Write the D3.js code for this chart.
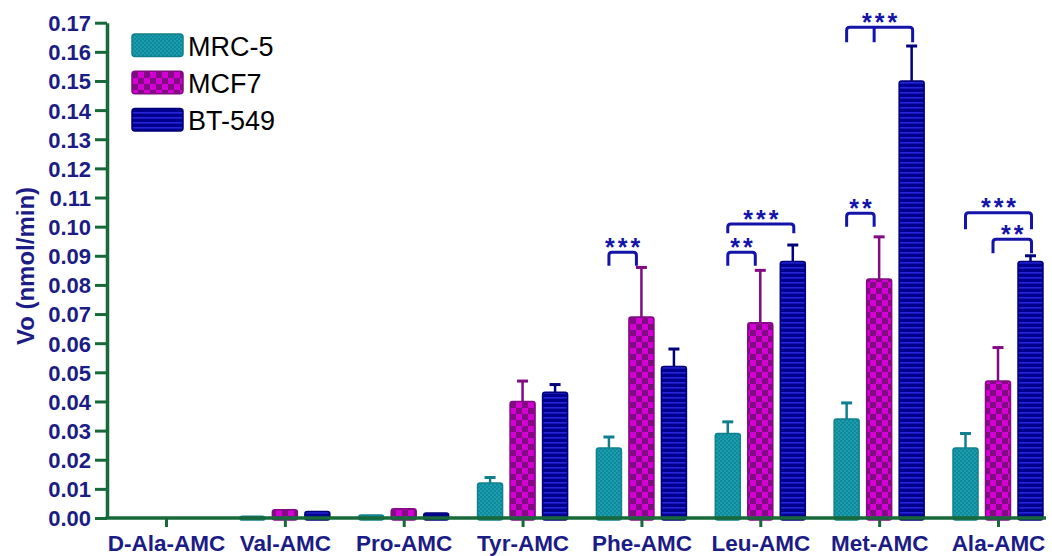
<!DOCTYPE html>
<html>
<head>
<meta charset="utf-8">
<script src="https://cdn.jsdelivr.net/npm/d3@7/dist/d3.min.js"></script>
<style>
  html, body { margin: 0; padding: 0; background: #fff; }
  svg { display: block; font-family: "Liberation Sans", Arial, sans-serif; }
</style>
</head>
<body>
<svg id="chart" width="1052" height="556"></svg>
<script>
// Substrates and cell lines
const categories = ["D-Ala-AMC", "Val-AMC", "Pro-AMC", "Tyr-AMC", "Phe-AMC", "Leu-AMC", "Met-AMC", "Ala-AMC"];
const seriesNames = ["MRC-5", "MCF7", "BT-549"];

// Initial velocity Vo (nmol/min), mean and error per substrate
const mrc5Values = [0, 0.0006, 0.001, 0.012, 0.024, 0.029, 0.034, 0.024];
const mrc5Errors = [0, 0, 0, 0.0019, 0.0038, 0.004, 0.0055, 0.005];
const mcf7Values = [0, 0.0028, 0.0032, 0.040, 0.069, 0.067, 0.082, 0.047];
const mcf7Errors = [0, 0, 0, 0.007, 0.017, 0.018, 0.0145, 0.0115];
const bt549Values = [0, 0.0022, 0.0017, 0.0432, 0.052, 0.088, 0.150, 0.088];
const bt549Errors = [0, 0, 0, 0.0026, 0.006, 0.0057, 0.012, 0.002];

const yTickValues = [0, 0.01, 0.02, 0.03, 0.04, 0.05, 0.06, 0.07, 0.08, 0.09, 0.10, 0.11, 0.12, 0.13, 0.14, 0.15, 0.16, 0.17];

// Significance brackets: legs on [category, series], bracket levels in data units
const sigCategories = ["Phe-AMC", "Leu-AMC", "Leu-AMC", "Met-AMC", "Met-AMC", "Ala-AMC", "Ala-AMC"];
const sigLegs = [["MRC-5", "MCF7"], ["MRC-5", "MCF7"], ["MRC-5", "BT-549"], ["MRC-5", "MCF7"], ["MRC-5", "MCF7", "BT-549"], ["MRC-5", "BT-549"], ["MCF7", "BT-549"]];
const sigTop = [0.0912, 0.0912, 0.1009, 0.1046, 0.1684, 0.1048, 0.0957];
const sigBottom = [0.0866, 0.0866, 0.0977, 0.1000, 0.1633, 0.0991, 0.0909];
const sigLabels = ["***", "**", "***", "**", "***", "***", "**"];

const seriesData = [
  { name: "MRC-5", values: mrc5Values, errors: mrc5Errors },
  { name: "MCF7", values: mcf7Values, errors: mcf7Errors },
  { name: "BT-549", values: bt549Values, errors: bt549Errors }
];

const svg = d3.select("#chart");
const axisColor = "#17693a";
const textNavy = "#1c1c86";
const bracketNavy = "#1414a8";

const x = d3.scalePoint().domain(categories).range([166, 998]);
const xSub = d3.scalePoint().domain(seriesNames).range([-32.5, 32.5]);
const y = d3.scaleLinear().domain([0, 0.17]).range([518, 22.7]);
const barWidth = 25;

// Fill patterns for each cell line
const defs = svg.append("defs");
const pTeal = defs.append("pattern").attr("id", "pat-mrc5").attr("patternUnits", "userSpaceOnUse")
  .attr("width", 4).attr("height", 4);
pTeal.append("rect").attr("width", 4).attr("height", 4).attr("fill", "#1a9dad");
pTeal.append("rect").attr("width", 2).attr("height", 2).attr("fill", "#12899a");
pTeal.append("rect").attr("x", 2).attr("y", 2).attr("width", 2).attr("height", 2).attr("fill", "#12899a");

const pMag = defs.append("pattern").attr("id", "pat-mcf7").attr("patternUnits", "userSpaceOnUse")
  .attr("width", 12).attr("height", 12);
pMag.append("rect").attr("width", 12).attr("height", 12).attr("fill", "#d200d2");
pMag.append("rect").attr("width", 6).attr("height", 6).attr("fill", "#820a82");
pMag.append("rect").attr("x", 6).attr("y", 6).attr("width", 6).attr("height", 6).attr("fill", "#820a82");

const pNavy = defs.append("pattern").attr("id", "pat-bt549").attr("patternUnits", "userSpaceOnUse")
  .attr("width", 8).attr("height", 5);
pNavy.append("rect").attr("width", 8).attr("height", 5).attr("fill", "#00008e");
pNavy.append("rect").attr("y", 2).attr("width", 8).attr("height", 1.6).attr("fill", "#2424d8");

const fills = { "MRC-5": "url(#pat-mrc5)", "MCF7": "url(#pat-mcf7)", "BT-549": "url(#pat-bt549)" };
const strokes = { "MRC-5": "#10808f", "MCF7": "#820a82", "BT-549": "#000078" };

// Bars and error bars
const groups = svg.append("g").selectAll("g.series").data(seriesData).join("g").attr("class", "series");

groups.each(function (s) {
  const g = d3.select(this);
  const rows = categories.map((c, i) => ({ cat: c, v: s.values[i], e: s.errors[i] }));
  const cx = d => x(d.cat) + xSub(s.name);

  g.selectAll("line.err").data(rows.filter(d => d.e > 0)).join("line")
    .attr("class", "err")
    .attr("x1", cx).attr("x2", cx)
    .attr("y1", d => y(d.v)).attr("y2", d => y(d.v + d.e))
    .attr("stroke", strokes[s.name]).attr("stroke-width", 2.5);
  g.selectAll("line.cap").data(rows.filter(d => d.e > 0)).join("line")
    .attr("class", "cap")
    .attr("x1", d => cx(d) - 5.5).attr("x2", d => cx(d) + 5.5)
    .attr("y1", d => y(d.v + d.e)).attr("y2", d => y(d.v + d.e))
    .attr("stroke", strokes[s.name]).attr("stroke-width", 3);

  g.selectAll("rect.bar").data(rows.filter(d => d.v > 0)).join("rect")
    .attr("class", "bar")
    .attr("x", d => cx(d) - barWidth / 2)
    .attr("width", barWidth)
    .attr("y", d => y(d.v))
    .attr("height", d => y(0) - y(d.v) + 2)
    .attr("rx", 2.5)
    .attr("fill", fills[s.name])
    .attr("stroke", strokes[s.name])
    .attr("stroke-width", 1.5);
});

// Y axis
const yAxis = svg.append("g").attr("transform", "translate(107,0)")
  .call(d3.axisLeft(y).tickValues(yTickValues).tickFormat(d3.format(".2f")).tickSize(12).tickSizeOuter(0).tickPadding(4));
yAxis.select(".domain").attr("stroke", axisColor).attr("stroke-width", 3.5);
yAxis.selectAll(".tick line").attr("stroke", axisColor).attr("stroke-width", 3);
yAxis.selectAll(".tick text")
  .attr("fill", textNavy).attr("font-size", 22).attr("font-weight", "bold")
  .attr("font-family", "Liberation Sans, Arial, sans-serif").attr("dy", "0.36em");

// X axis
const xAxis = svg.append("g").attr("transform", "translate(0,518)")
  .call(d3.axisBottom(x).tickSize(9).tickSizeOuter(0));
xAxis.select(".domain").remove();
xAxis.selectAll(".tick line").attr("stroke", axisColor).attr("stroke-width", 3);
xAxis.selectAll(".tick text")
  .attr("fill", textNavy).attr("font-size", 22.5).attr("font-weight", "bold")
  .attr("font-family", "Liberation Sans, Arial, sans-serif")
  .attr("y", 33).attr("dy", 0);
svg.append("line")
  .attr("x1", 105.5).attr("x2", 1046).attr("y1", 518).attr("y2", 518)
  .attr("stroke", axisColor).attr("stroke-width", 3.5);

// Y axis title
svg.append("text")
  .attr("transform", "translate(34,266) rotate(-90)")
  .attr("text-anchor", "middle")
  .attr("fill", textNavy).attr("font-size", 24).attr("font-weight", "bold")
  .text("Vo (nmol/min)");

// Significance brackets
const legShift = { "MRC-5": 0, "MCF7": -5, "BT-549": 1 };
const sig = svg.append("g");
sigCategories.forEach((cat, i) => {
  const xs = sigLegs[i].map(n => x(cat) + xSub(n) + legShift[n]);
  const top = y(sigTop[i]), bot = y(sigBottom[i]);
  const x1 = xs[0], x2 = xs[xs.length - 1], r = 3;
  let path = `M${x1},${bot} L${x1},${top + r} Q${x1},${top} ${x1 + r},${top} L${x2 - r},${top} Q${x2},${top} ${x2},${top + r} L${x2},${bot}`;
  xs.slice(1, -1).forEach(xm => { path += ` M${xm},${top} L${xm},${bot}`; });
  sig.append("path").attr("d", path).attr("fill", "none")
    .attr("stroke", bracketNavy).attr("stroke-width", 3);
  sig.append("text")
    .attr("x", (x1 + x2) / 2 + 1.5).attr("y", top - 10.5 + 14)
    .attr("text-anchor", "middle")
    .attr("fill", bracketNavy).attr("font-size", 25).attr("font-weight", "bold")
    .attr("letter-spacing", 3)
    .text(sigLabels[i]);
});

// Legend
const legend = svg.append("g");
seriesNames.forEach((n, i) => {
  const ly = 34 + i * 37.2;
  legend.append("rect").attr("x", 132).attr("y", ly).attr("width", 51).attr("height", 22.5)
    .attr("rx", 3).attr("fill", fills[n]).attr("stroke", strokes[n]).attr("stroke-width", 1.5);
  legend.append("text").attr("x", 188).attr("y", ly + 21.5)
    .attr("fill", "#000").attr("font-size", 27).text(n);
});
</script>
</body>
</html>
